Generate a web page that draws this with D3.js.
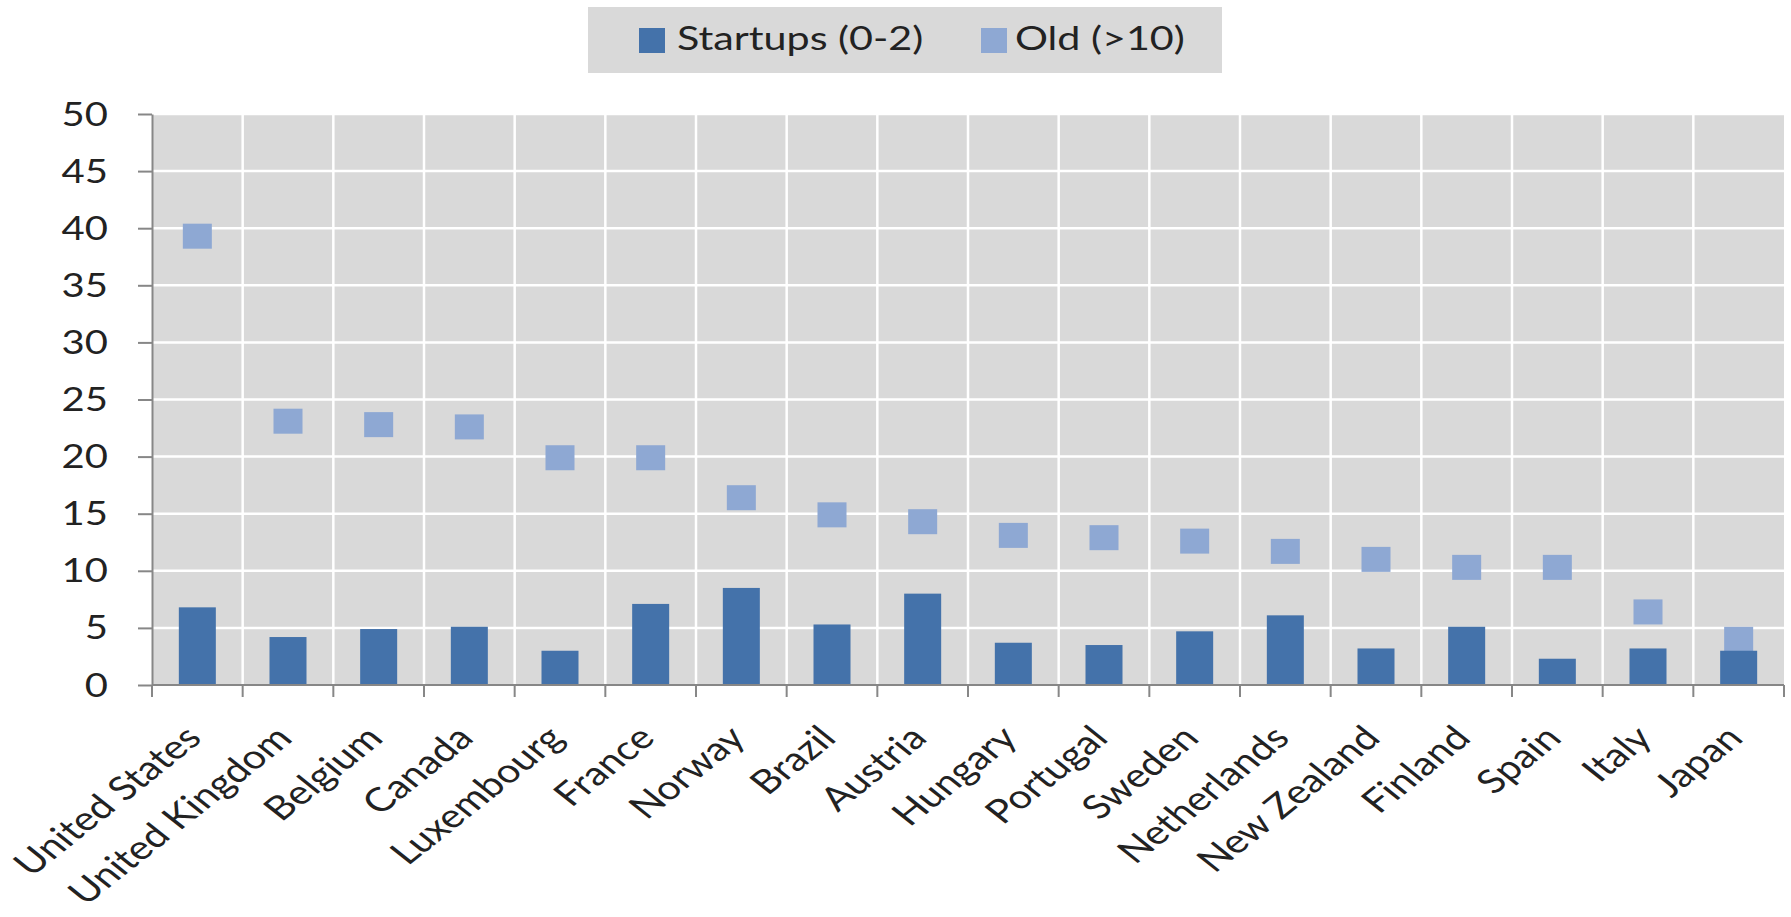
<!DOCTYPE html>
<html>
<head>
<meta charset="utf-8">
<script src="https://cdn.jsdelivr.net/npm/d3@7"></script>
<style>
  html, body { margin: 0; padding: 0; background: #ffffff; }
  svg { display: block; }
  text { font-family: Lato, "Open Sans", sans-serif; fill: #222222; }
</style>
</head>
<body>
<svg id="chart" width="1791" height="917"></svg>
<script>
// Countries, ordered as plotted
const countries = ["United States", "United Kingdom", "Belgium", "Canada", "Luxembourg", "France",
  "Norway", "Brazil", "Austria", "Hungary", "Portugal", "Sweden", "Netherlands", "New Zealand",
  "Finland", "Spain", "Italy", "Japan"];

// Startups (0-2 years), drawn as bars
const startups = [6.8, 4.2, 4.9, 5.1, 3.0, 7.1, 8.5, 5.3, 8.0, 3.7, 3.5, 4.7, 6.1, 3.2, 5.1, 2.3, 3.2, 3.0];

// Old firms (>10 years), drawn as square markers
const oldFirms = [39.3, 23.1, 22.8, 22.6, 19.9, 19.9, 16.4, 14.9, 14.3, 13.1, 12.9, 12.6, 11.7, 11.0, 10.3, 10.3, 6.4, 4.0];

const yTicks = [0, 5, 10, 15, 20, 25, 30, 35, 40, 45, 50];
const seriesNames = ["Startups (0-2)", "Old (>10)"];

const colBar = "#4472aa";
const colOld = "#8ea8d3";
const colPlot = "#d9d9d9";
const colAxis = "#878787";
const textStretch = 1.25;

const svg = d3.select("#chart");
const plotLeft = 152, plotRight = 1784, plotTop = 114, plotBottom = 685;

const x = d3.scaleBand().domain(countries).range([plotLeft, plotRight]).padding(0);
const y = d3.scaleLinear().domain([0, 50]).range([plotBottom, plotTop]);

// plot background
svg.append("rect")
  .attr("x", plotLeft).attr("y", plotTop)
  .attr("width", plotRight - plotLeft).attr("height", plotBottom - plotTop)
  .attr("fill", colPlot);

// horizontal gridlines
svg.append("g").selectAll("line")
  .data(yTicks.filter(t => t > 0))
  .join("line")
  .attr("x1", plotLeft).attr("x2", plotRight)
  .attr("y1", d => y(d)).attr("y2", d => y(d))
  .attr("stroke", "#ffffff").attr("stroke-width", 2.5);

// vertical gridlines at category boundaries
svg.append("g").selectAll("line")
  .data(countries.slice(1))
  .join("line")
  .attr("x1", d => x(d)).attr("x2", d => x(d))
  .attr("y1", plotTop).attr("y2", plotBottom)
  .attr("stroke", "#ffffff").attr("stroke-width", 2.5);

const barW = 37;
const mkW = 29, mkH = 25;

// old-firm markers
svg.append("g").selectAll("rect")
  .data(countries)
  .join("rect")
  .attr("x", d => x(d) + x.bandwidth() / 2 - mkW / 2)
  .attr("y", (d, i) => y(oldFirms[i]) - mkH / 2)
  .attr("width", mkW).attr("height", mkH)
  .attr("fill", colOld);

// startup bars
svg.append("g").selectAll("rect")
  .data(countries)
  .join("rect")
  .attr("x", d => x(d) + x.bandwidth() / 2 - barW / 2)
  .attr("y", (d, i) => y(startups[i]))
  .attr("width", barW)
  .attr("height", (d, i) => y(0) - y(startups[i]))
  .attr("fill", colBar);

// y axis
const yAxis = svg.append("g")
  .attr("transform", `translate(${plotLeft},0)`)
  .call(d3.axisLeft(y).tickValues(yTicks).tickSize(14).tickSizeOuter(0).tickFormat(""));
yAxis.select(".domain").attr("stroke", colAxis).attr("stroke-width", 2);
yAxis.selectAll(".tick line").attr("stroke", colAxis).attr("stroke-width", 2);

// y tick labels
svg.append("g").selectAll("text")
  .data(yTicks)
  .join("text")
  .attr("transform", d => `translate(108,${y(d)}) scale(${textStretch},1)`)
  .attr("text-anchor", "end")
  .attr("dy", "0.36em")
  .attr("font-size", 32)
  .text(d => d);

// x axis with ticks at category boundaries
const xAxisG = svg.append("g");
xAxisG.append("line")
  .attr("x1", plotLeft).attr("x2", plotRight)
  .attr("y1", plotBottom).attr("y2", plotBottom)
  .attr("stroke", colAxis).attr("stroke-width", 2);
xAxisG.selectAll("line.tk")
  .data(countries.concat([null]))
  .join("line")
  .attr("class", "tk")
  .attr("x1", d => d === null ? plotRight : x(d))
  .attr("x2", d => d === null ? plotRight : x(d))
  .attr("y1", plotBottom).attr("y2", plotBottom + 12)
  .attr("stroke", colAxis).attr("stroke-width", 2);

// rotated category labels
svg.append("g").selectAll("text")
  .data(countries)
  .join("text")
  .attr("transform", d => `translate(${x(d) + x.bandwidth() / 2 + 6},740) scale(${textStretch},1) rotate(-45)`)
  .attr("text-anchor", "end")
  .attr("font-size", 33)
  .text(d => d);

// legend
const lg = svg.append("g");
lg.append("rect")
  .attr("x", 588).attr("y", 7)
  .attr("width", 634).attr("height", 66)
  .attr("fill", colPlot);
const legendItems = [
  { name: seriesNames[0], color: colBar, sx: 639, tx: 677 },
  { name: seriesNames[1], color: colOld, sx: 981, tx: 1015 }
];
lg.selectAll("rect.sw")
  .data(legendItems)
  .join("rect")
  .attr("class", "sw")
  .attr("x", d => d.sx).attr("y", 28)
  .attr("width", 26).attr("height", 25)
  .attr("fill", d => d.color);
lg.selectAll("text")
  .data(legendItems)
  .join("text")
  .attr("transform", d => `translate(${d.tx},50) scale(${textStretch},1)`)
  .attr("font-size", 33)
  .text(d => d.name);
</script>
</body>
</html>
